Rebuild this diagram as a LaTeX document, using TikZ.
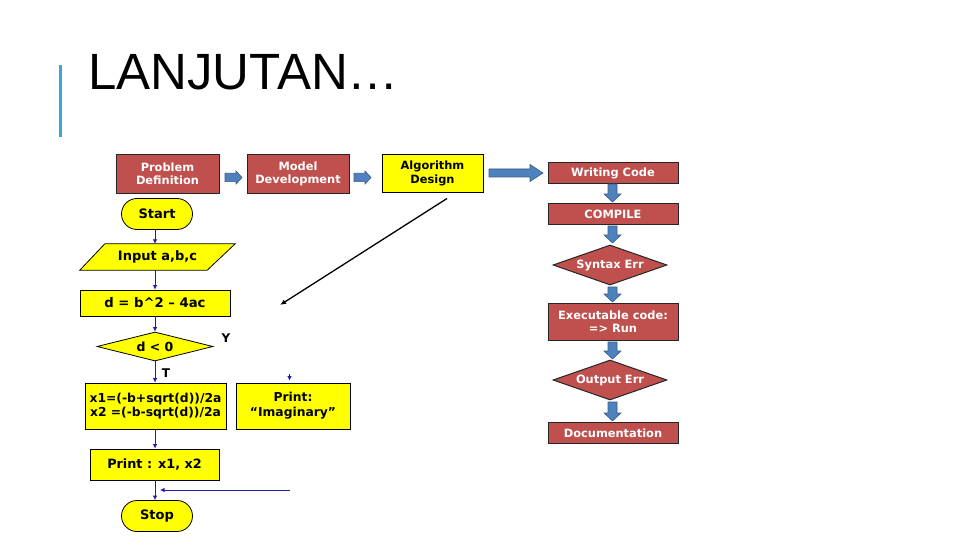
\documentclass[tikz,border=0pt]{standalone}
\usepackage{fontspec}
\setmainfont{DejaVu Sans}
\newfontfamily\titlefont{Liberation Sans}
\usetikzlibrary{shapes.geometric,shapes.misc,arrows.meta}
\definecolor{boxred}{RGB}{192,80,77}
\definecolor{boxyellow}{RGB}{255,255,0}
\definecolor{barblue}{RGB}{62,166,206}
\definecolor{arrfill}{RGB}{79,129,189}
\definecolor{arrline}{RGB}{56,93,138}
\definecolor{flowblue}{RGB}{30,30,170}
\newcommand{\rarrow}[6]{% x1 x2 yc shafthalf headhalf headlen
  \draw[blockarrow] ({#1},{#3-#4}) -- ({#2-#6},{#3-#4}) -- ({#2-#6},{#3-#5}) -- ({#2},{#3})
   -- ({#2-#6},{#3+#5}) -- ({#2-#6},{#3+#4}) -- ({#1},{#3+#4}) -- cycle;}
\newcommand{\darrow}[6]{% y1 y2 xc shafthalf headhalf headlen
  \draw[blockarrow] ({#3-#4},{#1}) -- ({#3-#4},{#2-#6}) -- ({#3-#5},{#2-#6}) -- ({#3},{#2})
   -- ({#3+#5},{#2-#6}) -- ({#3+#4},{#2-#6}) -- ({#3+#4},{#1}) -- cycle;}
\tikzset{
  rbox/.style={draw=black!85, line width=1pt, fill=boxred, text=white,
    font=\fontsize{11.4}{13.5}\selectfont\bfseries, inner sep=0pt, align=center},
  ybox/.style={draw=black, line width=0.8pt, fill=boxyellow, text=black,
    font=\fontsize{12.5}{15}\selectfont\bfseries, inner sep=0pt, align=center},
  rdia/.style={rbox, diamond, aspect=2.8},
  ydia/.style={ybox, diamond, aspect=4},
  term/.style={ybox, rounded rectangle, font=\fontsize{13}{15}\selectfont\bfseries},
  blockarrow/.style={fill=arrfill, draw=arrline, line width=0.6pt, line join=miter},
  flow/.style={draw=flowblue, line width=0.8pt, -{Latex[length=4.5pt,width=4.5pt]}},
  lbl/.style={font=\fontsize{12}{14}\selectfont\bfseries, inner sep=0pt}
}
\begin{document}
\begin{tikzpicture}[x=1pt,y=-1pt]
\useasboundingbox[fill=white] (0,0) rectangle (960,540);
% title
\fill[barblue] (58.5,65) rectangle (61.5,137);
\node[font=\titlefont\fontsize{51}{60}\selectfont, anchor=base west, inner sep=0pt] (title) at (88,90) {LANJUTAN…};

% top row
\node[rbox, minimum width=103, minimum height=38] (pd) at (167.5,174) {Problem\\Definition};
\node[rbox, minimum width=102, minimum height=38] (md) at (298,174) {Model\\Development};
\node[ybox, line width=1pt, font=\fontsize{11.4}{13.5}\selectfont\bfseries, minimum width=101, minimum height=37] (ad) at (432.5,173.5) {Algorithm\\Design};
\rarrow{225}{242}{177.5}{4.2}{6.5}{6}
\rarrow{354}{371}{177.5}{4.2}{6.5}{6}
\rarrow{489}{543}{173}{4}{8.5}{13}

% right column
\node[rbox, minimum width=130, minimum height=21] (wc) at (613,173) {Writing Code};
\node[rbox, minimum width=130, minimum height=21] (cp) at (613,214) {COMPILE};
\node[rdia, minimum width=114, minimum height=40] (se) at (610,265) {Syntax Err};
\node[rbox, minimum width=130, minimum height=37] (ex) at (613,321.5) {Executable code:\\=> Run};
\node[rdia, minimum width=114, minimum height=40] (oe) at (610,380) {Output Err};
\node[rbox, minimum width=130, minimum height=21] (doc) at (613,433) {Documentation};
\darrow{184}{202}{612.5}{4.5}{8.5}{8}
\darrow{226}{243}{612.5}{4.5}{8.5}{8}
\darrow{287}{302}{612.5}{4.5}{8.5}{8}
\darrow{342}{359}{612.5}{4.5}{8.5}{8}
\darrow{402}{421}{612.5}{4.5}{8.5}{8}

% left flowchart
\node[term, minimum width=71, minimum height=31] (start) at (157,214) {Start};
\node[draw=none, fill=none, inner sep=0pt, minimum width=155, minimum height=26] (input) at (157.5,257) {};
\draw[ybox] (input.south west) -- ([xshift=-28]input.south east) -- (input.north east) -- ([xshift=25]input.north west) -- cycle;
\node[lbl, font=\fontsize{13}{15}\selectfont\bfseries] (intext) at (input) {Input a,b,c};
\node[ybox, font=\fontsize{13.2}{15}\selectfont\bfseries, minimum width=150, minimum height=26] (dcalc) at (155,303) {d = b\^{}2 – 4ac};
\node[ydia, minimum width=116, minimum height=29] (cond) at (155,346.5) {d < 0};
\node[ybox, font=\fontsize{12.3}{14.5}\selectfont\bfseries, minimum width=141, minimum height=46] (roots) at (155.5,406) {x1=(-b+sqrt(d))/2a\\x2 =(-b-sqrt(d))/2a};
\node[ybox, font=\fontsize{12.3}{15}\selectfont\bfseries, minimum width=114, minimum height=46] (imag) at (293,406) {Print:\\“Imaginary”};
\node[ybox, font=\fontsize{12.8}{15}\selectfont\bfseries, minimum width=129, minimum height=31] (prt) at (154.5,464.5) {Print : x1, x2};
\node[term, minimum width=71, minimum height=31] (stop) at (157,516) {Stop};
\node[lbl] (ylab) at (226,338) {Y};
\node[lbl] (tlab) at (166,373) {T};

\coordinate (c1) at (155,0);
\draw[flow] (start.south -| c1) -- (input.north -| c1);
\draw[flow] (input.south -| c1) -- (dcalc.north -| c1);
\draw[flow] (dcalc.south -| c1) -- (cond.north -| c1);
\draw[flow] (cond.south -| c1) -- (roots.north -| c1);
\draw[flow] (roots.south -| c1) -- (prt.north -| c1);
\draw[flow] (prt.south -| c1) -- (stop.north -| c1);
\coordinate (ytip) at (289.5,374);
\draw[flow] (ytip) -- ([yshift=2]ytip |- imag.north);
\coordinate (ret) at (290,490);
\coordinate (retend) at (160,490);
\draw[flow] (ret) -- (retend);

% diagonal arrow
\coordinate (dg1) at (447,198.5);
\coordinate (dg2) at (280,305);
\draw[black, line width=1.3pt, -{Latex[length=6pt,width=5pt]}] (dg1) -- (dg2);
\end{tikzpicture}
\end{document}
